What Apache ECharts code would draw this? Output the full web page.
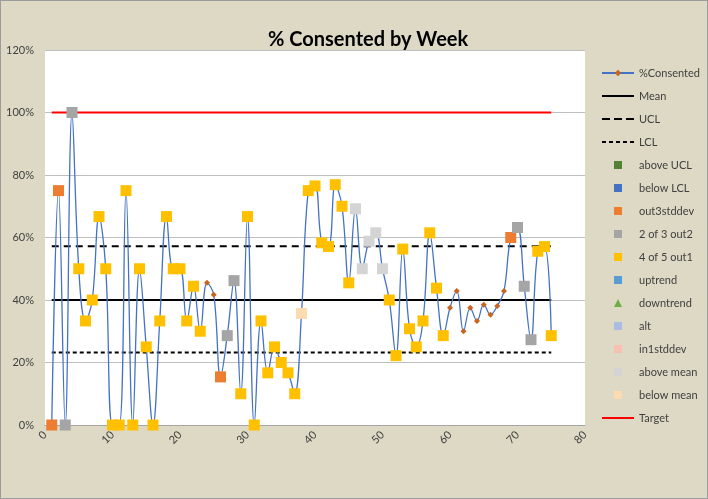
<!DOCTYPE html>
<html>
<head>
<meta charset="UTF-8">
<title>% Consented by Week</title>
<style>
html,body{margin:0;padding:0;background:#DDD9C4;}
#chart{width:708px;height:499px;box-sizing:border-box;border:1px solid #9c9c9c;}
</style>
</head>
<body>
<div id="chart"></div>
<script src="https://cdn.jsdelivr.net/npm/echarts@6/dist/echarts.min.js"></script>
<script>
// week numbers and % consented per week
var weeks = [1,2,3,4,5,6,7,8,9,10,11,12,13,14,15,16,17,18,19,20,21,22,23,24,25,
  26,27,28,29,30,31,32,33,34,35,36,37,38,39,40,41,42,43,44,45,46,47,48,49,50,
  51,52,53,54,55,56,57,58,59,60,61,62,63,64,65,66,67,68,69,70,71,72,73,74,75];
var pctConsented = [0,75,0,100,50,33.3,40,66.7,50,0,0,75,0,50,25,0,33.3,66.7,50,50,33.3,44.4,30,45.5,41.7,
  15.4,28.6,46.2,10,66.7,0,33.3,16.7,25,20,16.7,10,35.7,75,76.5,58.3,57.1,76.9,70,45.5,69.2,50,58.8,61.5,50,
  40,22.2,56.3,30.8,25,33.3,61.5,43.8,28.6,37.5,42.9,30,37.5,33.3,38.5,35.3,38.1,42.9,60,63.2,44.4,27.3,55.6,57.1,28.6];

var meanPct = 40;
var uclPct = 57.2;
var lclPct = 23.2;
var targetPct = 100;
var lineStart = 1, lineEnd = 75;

// weeks flagged by each rule
var aboveUCL = [];
var belowLCL = [];
var out3stddev = [1,2,26,69];
var twoOf3out2 = [3,4,27,28,70,71,72];
var fourOf5out1 = [5,6,7,8,9,10,11,12,13,14,15,16,17,18,19,20,21,22,23,
  29,30,31,32,33,34,35,36,37,39,40,41,42,43,44,45,51,52,53,54,55,56,57,58,59,73,74,75];
var uptrend = [];
var downtrend = [];
var alt = [];
var in1stddev = [];
var aboveMean = [46,47,48,49,50];
var belowMean = [38];

var yTicks = [0,20,40,60,80,100,120];

function pts(list) {
  return list.map(function(w) { return [w, pctConsented[weeks.indexOf(w)]]; });
}
function flat(v) { return [[lineStart, v], [lineEnd, v]]; }

// legend icons
var sq = 'path://M0,0H10V10H0Z';
var tri = 'path://M5,0L10,10H0Z';
var solidIcon = 'path://M0,0H32V2H0Z';
var uclIcon = 'path://M0,0H8V2H0Z M12,0H20V2H12Z M24,0H32V2H24Z';
var lclIcon = 'path://M0,0H4V2H0Z M7,0H11V2H7Z M14,0H18V2H14Z M21,0H25V2H21Z M28,0H32V2H28Z';

function flagSeries(name, list, color, icon) {
  return {
    name: name, type: 'scatter', data: pts(list),
    symbol: icon === tri ? 'triangle' : 'rect', symbolSize: 11,
    itemStyle: { color: color, opacity: 1 }, z: 5
  };
}

var chart = echarts.init(document.getElementById('chart'));
chart.setOption({
  animation: false,
  backgroundColor: '#DDD9C4',
  textStyle: { fontFamily: 'Lato' },
  title: {
    text: '% Consented by Week', left: 262, top: 24,
    textStyle: { fontFamily: 'Lato', fontWeight: 'bold', fontSize: 20, color: '#000' }
  },
  grid: { left: 44, right: 122, top: 49, bottom: 73, show: true, backgroundColor: '#fff', borderWidth: 0 },
  legend: {
    orient: 'vertical', left: 595, top: 60,
    itemWidth: 32, itemHeight: 8, itemGap: 9,
    textStyle: { fontSize: 11, color: '#404040', lineHeight: 14, fontFamily: 'Lato' },
    data: [
      { name: '%Consented' }, { name: 'Mean', icon: solidIcon },
      { name: 'UCL', icon: uclIcon }, { name: 'LCL', icon: lclIcon },
      { name: 'above UCL', icon: sq }, { name: 'below LCL', icon: sq },
      { name: 'out3stddev', icon: sq }, { name: '2 of 3 out2', icon: sq },
      { name: '4 of 5 out1', icon: sq }, { name: 'uptrend', icon: sq },
      { name: 'downtrend', icon: tri }, { name: 'alt', icon: sq },
      { name: 'in1stddev', icon: sq }, { name: 'above mean', icon: sq },
      { name: 'below mean', icon: sq }, { name: 'Target', icon: solidIcon }
    ]
  },
  xAxis: {
    type: 'value', min: 0, max: 80, interval: 10,
    axisLine: { show: true, lineStyle: { color: '#A6A6A6' } },
    axisTick: { show: false },
    splitLine: { show: false },
    axisLabel: { rotate: 45, fontSize: 11, color: '#404040', margin: 8 }
  },
  yAxis: {
    type: 'value', min: yTicks[0], max: yTicks[yTicks.length - 1], interval: 20,
    axisLine: { show: false }, axisTick: { show: false },
    splitLine: { lineStyle: { color: '#BFBFBF', width: 1 } },
    axisLabel: { formatter: '{value}%', fontSize: 11, color: '#404040', margin: 11 }
  },
  series: [
    {
      name: '%Consented', type: 'line', smooth: 0.4,
      data: weeks.map(function(w, i) { return [w, pctConsented[i]]; }),
      symbol: 'diamond', symbolSize: 6, showAllSymbol: true,
      lineStyle: { color: '#4472C4', width: 1.3 },
      itemStyle: { color: '#C8641E' }, z: 3
    },
    { name: 'Mean', type: 'line', data: flat(meanPct), symbol: 'none',
      lineStyle: { color: '#000', width: 2 }, itemStyle: { color: '#000' }, z: 2 },
    { name: 'UCL', type: 'line', data: flat(uclPct), symbol: 'none',
      lineStyle: { color: '#000', width: 2, type: [7, 5] }, itemStyle: { color: '#000' }, z: 2 },
    { name: 'LCL', type: 'line', data: flat(lclPct), symbol: 'none',
      lineStyle: { color: '#000', width: 2, type: [4, 3] }, itemStyle: { color: '#000' }, z: 2 },
    flagSeries('above UCL', aboveUCL, '#548235', sq),
    flagSeries('below LCL', belowLCL, '#4472C4', sq),
    flagSeries('out3stddev', out3stddev, '#ED7D31', sq),
    flagSeries('2 of 3 out2', twoOf3out2, '#A5A5A5', sq),
    flagSeries('4 of 5 out1', fourOf5out1, '#FFC000', sq),
    flagSeries('uptrend', uptrend, '#5B9BD5', sq),
    flagSeries('downtrend', downtrend, '#70AD47', tri),
    flagSeries('alt', alt, '#A9BCE4', sq),
    flagSeries('in1stddev', in1stddev, '#F8C0B0', sq),
    flagSeries('above mean', aboveMean, '#D4D4D4', sq),
    flagSeries('below mean', belowMean, '#FDDBB0', sq),
    { name: 'Target', type: 'line', data: flat(targetPct), symbol: 'none',
      lineStyle: { color: '#FF0000', width: 2 }, itemStyle: { color: '#FF0000' }, z: 2 }
  ]
});
</script>
</body>
</html>
